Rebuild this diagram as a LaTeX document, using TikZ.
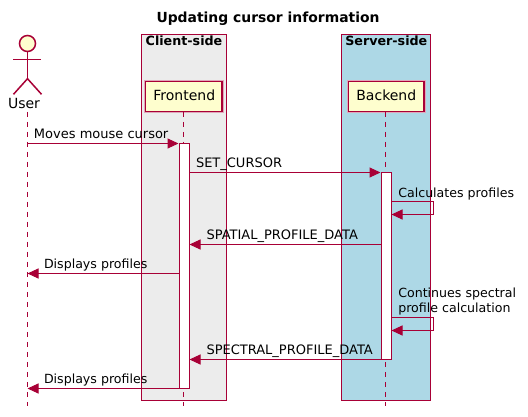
\documentclass[tikz,border=0pt]{standalone}
\usepackage{fontspec}
\setmainfont{DejaVu Sans}
\usetikzlibrary{arrows.meta}
\definecolor{pu}{HTML}{A80036}
\definecolor{pubg}{HTML}{FEFECE}
\definecolor{pugray}{HTML}{ECECEC}
\definecolor{publue}{HTML}{ADD8E6}
\tikzset{
  every node/.style={inner sep=0pt,outer sep=0pt,text=black},
  grp/.style={draw=pu,line width=1pt,anchor=north west},
  part/.style={draw=pu,fill=pubg,line width=1.5pt,anchor=north west,font=\fontsize{14}{14}\selectfont},
  shade/.style={draw=pu!35,line width=3.5pt,anchor=north west},
  act/.style={draw=pu,fill=white,line width=1pt,anchor=north west,minimum width=10pt},
  life/.style={draw=pu,line width=1pt,dash pattern=on 5pt off 5pt},
  msg/.style={draw=pu,line width=1pt,-{Triangle[length=11pt,width=10pt,color=pu]}},
  lbl/.style={anchor=base west,font=\fontsize{13}{15}\selectfont},
  lbls/.style={anchor=base west,font=\fontsize{12.6}{15}\selectfont},
  grptitle/.style={anchor=base,font=\bfseries\fontsize{12.7}{13}\selectfont},
  actor/.style={draw=pu,line width=1.5pt}
}
\begin{document}
\begin{tikzpicture}[x=1pt,y=-1pt]
\useasboundingbox (0,0) rectangle (528,417);
\fill[white] (0,0) rectangle (528,417);
\node[anchor=base,font=\bfseries\fontsize{13.9}{14}\selectfont] (title) at (268,23) {Updating cursor information};
% groups
\node[grp,fill=pugray,minimum width=85pt,minimum height=366pt] (client) at (141.5,34.5) {};
\node[grp,fill=publue,minimum width=89pt,minimum height=366pt] (server) at (341.5,34.5) {};
\node[grptitle] (clientT) at (184,45.7) {Client-side};
\node[grptitle] (serverT) at (386.3,45.7) {Server-side};
% participants
\node[shade,minimum width=76.5pt,minimum height=30pt] at (145.7,81.5) {};
\node[shade,minimum width=75.5pt,minimum height=30pt] at (348.5,81.5) {};
\node[part,minimum width=76.5pt,minimum height=30pt] (front) at (145.7,81.5) {};
\node[part,minimum width=75.5pt,minimum height=30pt] (back) at (348.5,81.5) {};
\node[anchor=base,font=\fontsize{14}{14}\selectfont] (frontT) at (184.3,101) {Frontend};
\node[anchor=base,font=\fontsize{14}{14}\selectfont] (backT) at (386.3,101) {Backend};
% actor
\node[draw=pu,fill=pubg,line width=1.5pt,circle,minimum size=16pt] (head) at (27.5,43.5) {};
\coordinate (hip) at (27.5,78.7);
\coordinate (armL) at (13.3,59.3);
\coordinate (armR) at (41.3,59.3);
\coordinate (legL) at (13.5,94.3);
\coordinate (legR) at (41.5,94.3);
\draw[actor] (head.south) -- (hip);
\draw[actor] (armL) -- (armR);
\draw[actor] (legL) -- (hip) -- (legR);
\node[anchor=base,font=\fontsize{14}{14}\selectfont] (user) at (24,109) {User};
% lifelines
\coordinate (uTop) at (27.5,112);
\coordinate (uEnd) at (27.5,406);
\coordinate (fTop) at (183.5,112);
\coordinate (fEnd) at (183.5,406);
\coordinate (bTop) at (385.5,112);
\coordinate (bEnd) at (385.5,406);
\draw[life] (uTop) -- (uEnd);
\draw[life] (fTop) -- (fEnd);
\draw[life] (bTop) -- (bEnd);
% activations
\node[act,minimum height=245pt] (fa) at (179.5,143.5) {};
\node[act,minimum height=187pt] (ba) at (381.5,172.5) {};
% message anchors
\coordinate (u1) at (27.5,143.5);
\coordinate (u2) at (27.5,273.5);
\coordinate (u3) at (27.5,388.5);
\coordinate (f1) at (178.5,143.5);
\coordinate (f2) at (189.5,172.5);
\coordinate (f3) at (189.5,244.5);
\coordinate (f4) at (179.5,273.5);
\coordinate (f5) at (189.5,359.5);
\coordinate (f6) at (189.5,388.5);
\coordinate (b1) at (380.5,172.5);
\coordinate (b2) at (381.5,244.5);
\coordinate (b3) at (391.5,359.5);
\coordinate (s1a) at (391.5,201.5);
\coordinate (s1b) at (433.5,201.5);
\coordinate (s1c) at (433.5,214.5);
\coordinate (s1d) at (391.5,214.5);
\coordinate (s2a) at (391.5,317.5);
\coordinate (s2b) at (433.5,317.5);
\coordinate (s2c) at (433.5,330.5);
\coordinate (s2d) at (391.5,330.5);
\draw[msg] (u1) -- (f1);
\draw[msg] (f2) -- (b1);
\draw[msg] (s1a) -- (s1b) -- (s1c) -- (s1d);
\draw[msg] (b2) -- (f3);
\draw[msg] (f4) -- (u2);
\draw[msg] (s2a) -- (s2b) -- (s2c) -- (s2d);
\draw[msg] (b3) -- (f5);
\draw[msg] (f6) -- (u3);
% labels
\node[lbl] (m1) at (34,138.7) {Moves mouse cursor};
\node[lbl] (m2) at (196,168) {SET\_CURSOR};
\node[lbls] (m3) at (398.3,197.3) {Calculates profiles};
\node[lbl] (m4) at (206.5,239.3) {SPATIAL\_PROFILE\_DATA};
\node[lbls] (m5) at (44,268.3) {Displays profiles};
\node[lbls] (m6) at (398.3,297) {Continues spectral};
\node[lbls] (m6b) at (398.3,312) {profile calculation};
\node[lbl] (m7) at (206.5,354.3) {SPECTRAL\_PROFILE\_DATA};
\node[lbls] (m8) at (44,383.3) {Displays profiles};
\end{tikzpicture}
\end{document}
